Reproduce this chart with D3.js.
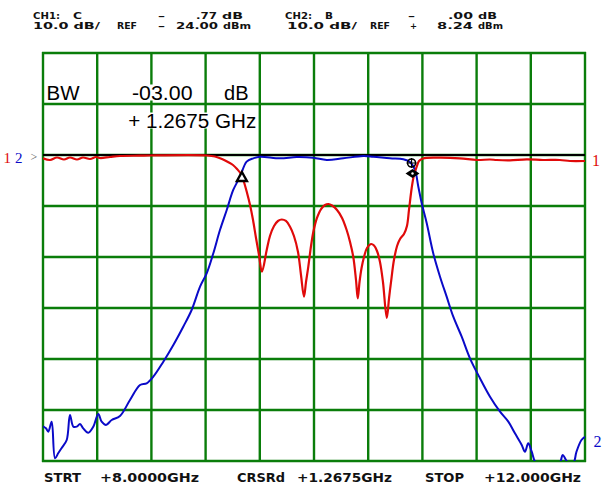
<!DOCTYPE html>
<html><head><meta charset="utf-8">
<script src="https://cdn.jsdelivr.net/npm/d3@7/dist/d3.min.js"></script>
<style>html,body{margin:0;padding:0;background:#fff;}svg{display:block;}</style>
</head><body>
<script>
// ---- data (frequency in GHz, level in dB relative to reference) ----
const ch1Freq = [8.000,8.052,8.103,8.155,8.199,8.251,8.295,8.347,8.391,8.421,8.494,8.568,8.716,8.790,9.210,9.269,9.321,9.365,9.402,9.432,9.461,9.483,9.506,9.528,9.550,9.572,9.594,9.616,9.651,9.675,9.705,9.734,9.762,9.793,9.823,9.852,9.882,9.904,9.926,9.941,9.958,9.978,9.995,10.022,10.052,10.081,10.107,10.133,10.170,10.207,10.241,10.266,10.290,10.310,10.323,10.336,10.351,10.369,10.391,10.421,10.443,10.465,10.487,10.509,10.537,10.554,10.572,10.590,10.613,10.635,10.664,10.686,10.701,10.721,10.738,10.758,10.775,10.804,10.906,11.077,11.201,11.299,11.348,11.446,11.570,11.690,11.815,11.889,12.000];
const ch1dB = [-0.65,-0.98,-0.49,-0.88,-0.49,-0.88,-0.49,-0.78,-0.39,-0.59,-0.39,-0.20,-0.14,-0.10,-0.10,-0.29,-0.78,-1.37,-1.96,-2.75,-3.73,-5.29,-7.45,-9.80,-12.75,-16.27,-19.61,-22.88,-18.63,-15.88,-13.92,-12.94,-12.65,-12.94,-14.06,-15.88,-19.02,-23.53,-27.78,-24.90,-21.90,-17.84,-15.10,-12.35,-10.59,-9.80,-9.61,-9.90,-10.78,-12.35,-14.71,-17.06,-20.00,-24.51,-28.10,-24.90,-22.16,-20.00,-18.24,-17.45,-17.75,-18.82,-20.98,-24.90,-31.96,-28.04,-24.12,-20.59,-17.84,-16.47,-15.49,-13.92,-10.78,-6.47,-3.92,-2.29,-1.18,-0.69,-0.53,-0.65,-0.98,-0.88,-0.98,-1.04,-0.84,-0.98,-0.98,-1.18,-1.18];

const ch2Freq = [8.000,8.022,8.039,8.064,8.089,8.113,8.138,8.175,8.199,8.224,8.249,8.273,8.297,8.334,8.371,8.408,8.433,8.465,8.507,8.568,8.642,8.716,8.765,8.814,8.888,8.962,9.035,9.097,9.159,9.208,9.257,9.306,9.356,9.404,9.454,9.503,9.552,9.601,9.749,9.872,9.995,10.094,10.216,10.364,10.438,10.561,10.659,10.708,10.745,10.770,10.795,10.832,10.880,10.930,10.979,11.028,11.090,11.151,11.225,11.299,11.373,11.434,11.483,11.533,11.557,11.581,11.607,11.643,11.810,11.835,11.860,11.877,11.914,11.937,11.974,12.000];
const ch2dB = [-53.2,-53.59,-54.25,-52.29,-59.47,-58.43,-57.45,-55.88,-50.98,-53.27,-53.27,-52.75,-53.59,-54.45,-53.27,-50.78,-52.29,-52.94,-51.96,-51.18,-48.04,-45.10,-44.76,-43.47,-40.53,-37.25,-33.67,-30.39,-25.82,-23.20,-19.27,-14.71,-10.78,-6.86,-4.25,-1.31,-0.65,-0.33,-0.65,-0.39,-0.53,-0.98,-0.65,-0.20,-0.33,-0.65,-0.84,-1.37,-2.94,-6.22,-9.47,-13.39,-19.27,-23.86,-27.78,-31.71,-35.63,-39.86,-43.78,-47.39,-50.33,-52.29,-54.57,-56.86,-58.18,-56.53,-58.18,-60.45,-60.39,-58.82,-59.80,-60.39,-60.39,-58.18,-55.88,-55.25];

const markerFreq = [9.468, 10.727, 10.720];
const markerdB = [-4.31, -3.63, -1.57];
const markerKind = ["triangle", "diamond", "circle"];

const header1 = ["CH1:", "C", "\u2013", ".77", "dB", "CH2:", "B", "\u2013", ".00", "dB"];
const header2 = ["10.0 dB/", "REF", "\u2013", "24.00", "dBm", "10.0 dB/", "REF", "+", "8.24", "dBm"];
const footer = ["STRT", "+8.0000GHz", "CRSRd", "+1.2675GHz", "STOP", "+12.000GHz"];
const bwLine1 = ["BW", "-03.00", "dB"];
const bwLine2 = ["+ 1.2675 GHz"];

// ---- layout ----
const W = 611, H = 496;
const L = 43, R = 585, T = 53, B = 461;
const x = d3.scaleLinear().domain([8, 12]).range([L, R]);
const y = d3.scaleLinear().domain([20, -60]).range([T, B]);

const svg = d3.select("body").append("svg").attr("width", W).attr("height", H);
svg.append("rect").attr("width", W).attr("height", H).attr("fill", "#fff");

const green = "#0a7d0a";
// grid
const xTicks = d3.range(0, 11).map(i => 8 + i * 0.4);
const yTicks = d3.range(0, 9).map(i => 20 - i * 10);
const grid = svg.append("g");
grid.selectAll("line.v").data(xTicks).join("line")
  .attr("x1", d => x(d)).attr("x2", d => x(d)).attr("y1", T - 1).attr("y2", B + 1)
  .attr("stroke", green).attr("stroke-width", 2.4);
grid.selectAll("line.h").data(yTicks).join("line")
  .attr("y1", d => y(d)).attr("y2", d => y(d)).attr("x1", L - 1).attr("x2", R + 1)
  .attr("stroke", green).attr("stroke-width", 2.4);

// BW annotation with white backgrounds
const bwFont = "'Liberation Sans', Arial, sans-serif";
const bwItems = [
  {t: bwLine1[0], x: 46.5, y: 99.5, w: 33},
  {t: bwLine1[1], x: 132, y: 99.5, w: 60.5},
  {t: bwLine1[2], x: 224, y: 99.5, w: 24.5},
  {t: bwLine2[0], x: 128.3, y: 127.5, w: 128}
];
const bwG = svg.append("g");
bwG.selectAll("rect").data(bwItems).join("rect")
  .attr("x", d => d.x - 1).attr("y", d => d.y - 15).attr("width", d => d.w + 2).attr("height", 16)
  .attr("fill", "#fff");
bwG.selectAll("text").data(bwItems).join("text")
  .attr("x", d => d.x).attr("y", d => d.y).text(d => d.t)
  .attr("textLength", d => d.w).attr("lengthAdjust", "spacingAndGlyphs")
  .attr("font-family", bwFont).attr("font-size", 19.5).attr("fill", "#000");

// reference line
svg.append("line").attr("x1", L).attr("x2", R).attr("y1", y(0)).attr("y2", y(0))
  .attr("stroke", "#000").attr("stroke-width", 2.2);

// traces
svg.append("clipPath").attr("id", "clip").append("rect")
  .attr("x", L).attr("y", T).attr("width", R - L).attr("height", B - T);
const line = d3.line().x(d => x(d[0])).y(d => y(d[1])).curve(d3.curveCatmullRom.alpha(0.5));
const ch2 = ch2Freq.map((f, i) => [f, ch2dB[i]]);
const ch1 = ch1Freq.map((f, i) => [f, ch1dB[i]]);
const traces = svg.append("g").attr("clip-path", "url(#clip)");
traces.append("path").datum(ch2).attr("d", line).attr("fill", "none")
  .attr("stroke", "#0a0ac8").attr("stroke-width", 2).attr("stroke-linejoin", "round");
traces.append("path").datum(ch1).attr("d", line).attr("fill", "none")
  .attr("stroke", "#e00a0a").attr("stroke-width", 2.2).attr("stroke-linejoin", "round");

// markers
const mk = svg.append("g");
markerFreq.forEach((f, i) => {
  const cx = x(f), cy = y(markerdB[i]);
  if (markerKind[i] === "triangle") {
    mk.append("path").attr("d", `M${cx},${cy - 5} L${cx + 5},${cy + 4} L${cx - 5},${cy + 4} Z`)
      .attr("fill", "#fff").attr("stroke", "#000").attr("stroke-width", 2.4);
  } else if (markerKind[i] === "diamond") {
    mk.append("path").attr("d", `M${cx - 7},${cy} L${cx},${cy - 4.5} L${cx + 7},${cy} L${cx},${cy + 4.5} Z`)
      .attr("fill", "#000");
    mk.append("circle").attr("cx", cx).attr("cy", cy).attr("r", 1.2).attr("fill", "#fff");
  } else {
    mk.append("circle").attr("cx", cx).attr("cy", cy).attr("r", 4).attr("fill", "none")
      .attr("stroke", "#000").attr("stroke-width", 1.6);
    mk.append("path").attr("d", `M${cx - 5},${cy} L${cx + 5},${cy} M${cx},${cy - 5} L${cx},${cy + 5}`)
      .attr("stroke", "#000").attr("stroke-width", 1.2);
  }
});

// header text
const hdrFont = "'DejaVu Sans', 'Liberation Sans', sans-serif";
const h1x = [33, 73, 158, 196, 222, 285, 325, 408, 448, 478];
const h1w = [27, 9, 7, 21, 21, 27, 8, 7, 25, 19];
const h2x = [33, 117, 158, 176, 223, 287, 370, 410, 437, 478];
const h2w = [67, 20, 7, 42, 28, 70, 20, 7, 36, 25];
const hdr = svg.append("g").attr("font-family", hdrFont).attr("font-weight", "bold")
  .attr("font-size", 9).attr("fill", "#111");
header1.forEach((t, i) => {
  hdr.append("text").attr("x", h1x[i]).attr("y", 18.5).text(t)
    .attr("textLength", h1w[i]).attr("lengthAdjust", "spacingAndGlyphs");
});
header2.forEach((t, i) => {
  hdr.append("text").attr("x", h2x[i]).attr("y", 29).text(t)
    .attr("textLength", h2w[i]).attr("lengthAdjust", "spacingAndGlyphs");
});

// footer text
const fx = [44, 100, 237, 297, 425, 484];
const fw = [37, 99, 48, 95, 39, 97];
const ft = svg.append("g").attr("font-family", hdrFont).attr("font-weight", "bold")
  .attr("font-size", 12).attr("fill", "#111");
footer.forEach((t, i) => {
  ft.append("text").attr("x", fx[i]).attr("y", 482).text(t)
    .attr("textLength", fw[i]).attr("lengthAdjust", "spacingAndGlyphs");
});

// channel labels
const serif = "'Liberation Serif', 'Times New Roman', serif";
svg.append("text").attr("x", 3.5).attr("y", 162.5).text("1").attr("fill", "#e00a0a")
  .attr("font-family", serif).attr("font-size", 15);
svg.append("text").attr("x", 15).attr("y", 162.5).text("2").attr("fill", "#0a0ac8")
  .attr("font-family", serif).attr("font-size", 15);
svg.append("text").attr("x", 30.5).attr("y", 160.5).text(">").attr("fill", "#555")
  .attr("font-family", serif).attr("font-size", 12);
svg.append("text").attr("x", 592).attr("y", 166).text("1").attr("fill", "#e00a0a")
  .attr("font-family", serif).attr("font-size", 16);
svg.append("text").attr("x", 593.5).attr("y", 447).text("2").attr("fill", "#0a0ac8")
  .attr("font-family", serif).attr("font-size", 16);
</script>
</body></html>
